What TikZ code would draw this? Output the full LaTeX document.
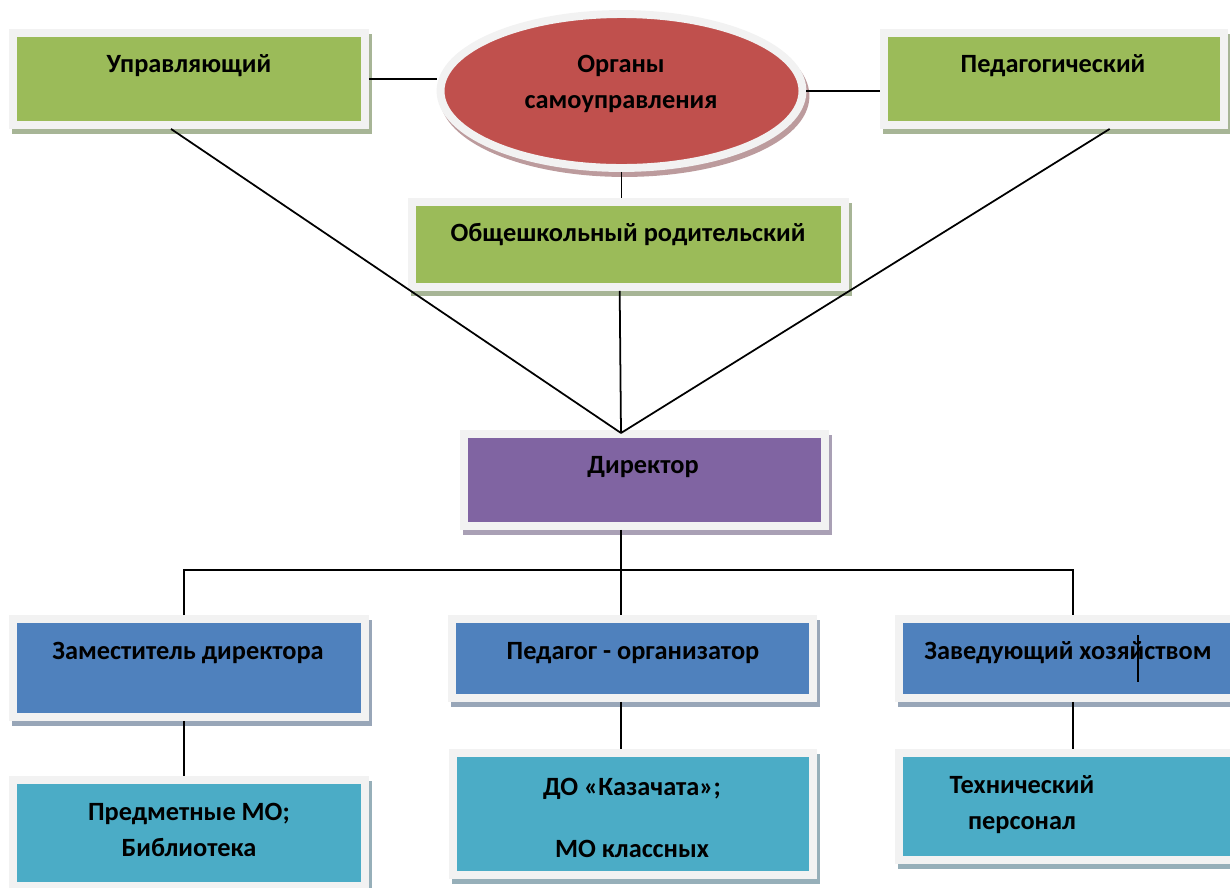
\documentclass[tikz,border=0pt]{standalone}
\usepackage{fontspec}
\setmainfont{Carlito}
\usetikzlibrary{positioning, shapes.geometric, shadows, calc}
\definecolor{frameGray}{HTML}{F2F2F2}
\definecolor{boxGreen}{HTML}{9BBB59}
\definecolor{boxRed}{HTML}{C0504D}
\definecolor{boxPurple}{HTML}{8064A2}
\definecolor{boxBlue}{HTML}{4F81BD}
\definecolor{boxTeal}{HTML}{4BACC6}
\definecolor{shadeGreen}{HTML}{A7B596}
\definecolor{shadeRed}{HTML}{BC9B9D}
\definecolor{shadePurple}{HTML}{A9A0B5}
\definecolor{shadeBlue}{HTML}{98A6B8}
\definecolor{shadeTeal}{HTML}{96AFB9}
\tikzset{
    box/.style={rectangle, draw=frameGray, line width=4.5pt, inner sep=0pt},
    shade/.style={drop shadow={shadow xshift=0.06cm, shadow yshift=-0.1cm, draw=#1, fill=#1, line width=4.5pt, opacity=1}},
    green_box/.style={box, fill=boxGreen, shade=shadeGreen},
    purple_box/.style={box, fill=boxPurple, shade=shadePurple},
    blue_box/.style={box, fill=boxBlue, shade=shadeBlue},
    teal_box/.style={box, fill=boxTeal, shade=shadeTeal},
    organ_shape/.style={ellipse, draw=frameGray, line width=4.5pt, fill=boxRed, inner sep=0pt, shade=shadeRed},
    box_text/.style={font=\fontsize{15}{20.4}\selectfont\bfseries, align=center, anchor=base, inner sep=0pt},
    link/.style={line width=1pt, black}
}
\begin{document}
\begin{tikzpicture}[x=0.02cm, y=-0.02cm]
      \useasboundingbox (0,0) rectangle (1230,887);

      % --- Self-government bodies ---
      \node (upr) [green_box, minimum width=7.04cm, minimum height=1.84cm] at (189,79) {};
      \node (ped) [green_box, minimum width=6.8cm, minimum height=1.84cm] at (1054,79) {};
      \node (organ) [organ_shape, minimum width=7.24cm, minimum height=3.08cm] at (621.5,91) {};
      \node (parent) [green_box, minimum width=8.66cm, minimum height=1.7cm] at (628.5,244.5) {};

      % --- Administration ---
      \node (director) [purple_box, minimum width=7.22cm, minimum height=1.84cm] at (644.5,480) {};
      \node (deputy) [blue_box, minimum width=7.04cm, minimum height=1.96cm] at (189,668) {};
      \node (organizer) [blue_box, minimum width=7.22cm, minimum height=1.58cm] at (632.5,658.5) {};
      \node (manager) [blue_box, minimum width=6.8cm, minimum height=1.58cm] at (1069,658.5) {};
      \node (subjMO) [teal_box, minimum width=7.04cm, minimum height=2.12cm] at (189,833) {};
      \node (doMO) [teal_box, minimum width=7.2cm, minimum height=2.44cm] at (633,814) {};
      \node (techStaff) [teal_box, minimum width=6.8cm, minimum height=2.14cm] at (1069,806.5) {};

      % --- Texts (base = last line) ---
      \node (upr_label) [box_text] at (189,72) {Управляющий};
      \node (ped_label) [box_text] at (1053,72) {Педагогический};
      \node (organ_label) [box_text] at (621,108) {Органы\\самоуправления};
      \node (parent_label) [box_text] at (628,241) {Общешкольный родительский};
      \node (director_label) [box_text] at (643,473) {Директор};
      \node (deputy_label) [box_text] at (188,659) {Заместитель директора};
      \node (organizer_label) [box_text] at (633,659) {Педагог - организатор};
      \node (manager_label) [box_text] at (1068,659) {Заведующий хозяйством};
      \node (subjMO_label) [box_text] at (189,856) {Предметные МО;\\Библиотека};
      \node (doMO_label) [box_text] at (632,857) {ДО «Казачата»;\\[14.7pt]МО классных};
      \node (techStaff_label) [box_text] at (1022,829) {Технический\\персонал};

      % --- Links ---
      \coordinate (apex) at (621,433);
      \coordinate (busL) at (184,570);
      \coordinate (busR) at (1073,570);
      \draw[link] (upr.east) -- (upr.east -| organ.west);
      \draw[link] (organ.east) -- (organ.east -| ped.west);
      \draw[link] (organ.south) -- (organ.south |- parent.north);
      \draw[link] ($(upr.south west)!0.45!(upr.south east)$) -- (apex);
      \draw[link] ($(parent.south west)!0.48!(parent.south east)$) -- (apex);
      \draw[link] ($(ped.south west)!0.66!(ped.south east)$) -- (apex);
      \draw[link] (apex |- director.south) -- (apex |- organizer.north);
      \draw[link] (busL |- deputy.north) -- (busL) -- (busR) -- (busR |- manager.north);
      \draw[link] (busL |- deputy.south) -- (busL |- subjMO.north);
      \draw[link] (apex |- organizer.south) -- (apex |- doMO.north);
      \draw[link] (busR |- manager.south) -- (busR |- techStaff.north);
      \draw[link] (1138,635) -- (1138,682);
\end{tikzpicture}
\end{document}
